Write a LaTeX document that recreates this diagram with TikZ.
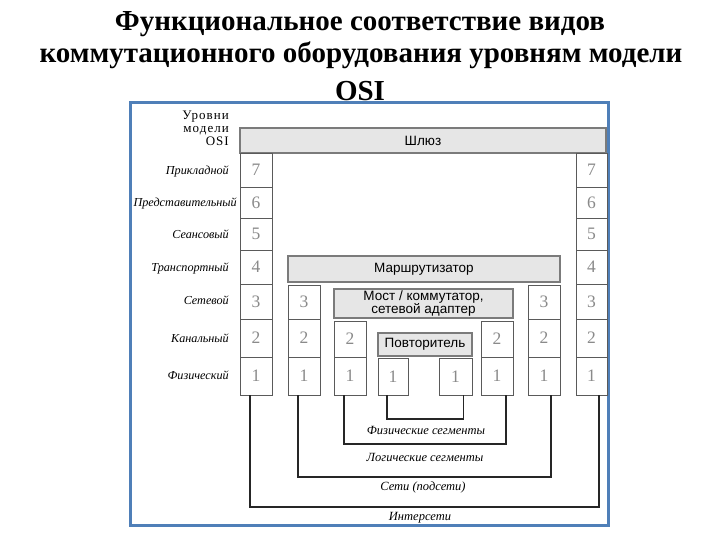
\documentclass[tikz,border=0pt]{standalone}
\usepackage{fontspec}
\setmainfont{Liberation Serif}
\setsansfont{Liberation Sans}
\definecolor{frameblue}{HTML}{4F7FB8}
\definecolor{barfill}{HTML}{E6E6E6}
\definecolor{digitgray}{HTML}{8A8A8A}
\definecolor{edgegray}{HTML}{5A5A5A}
\tikzset{
  cell/.style={draw=edgegray, line width=0.9pt, fill=white, inner sep=0pt, outer sep=0pt,
    font=\fontsize{17.5}{17.5}\selectfont, text=digitgray},
  bar/.style={draw=edgegray!80, line width=1.4pt, fill=barfill, inner sep=0pt, outer sep=0pt,
    font=\sffamily\fontsize{13.5}{15}\selectfont, align=center},
  rowlabel/.style={anchor=east, inner sep=0pt, font=\itshape\fontsize{12.2}{14}\selectfont},
  seglabel/.style={inner sep=0pt, font=\itshape\fontsize{12.5}{14}\selectfont},
  titletext/.style={anchor=base, inner sep=0pt, font=\bfseries\fontsize{29}{32}\selectfont},
  link/.style={draw=black!85, line width=1.3pt},
}
\newcommand\cellbox[6]{\node[cell, minimum width={(#4)-(#2)}, minimum height={(#5)-(#3)}] (#1) at ({((#2)+(#4))/2},{((#3)+(#5))/2}) {#6};}
\newcommand\barbox[6]{\node[bar, minimum width={(#4)-(#2)}, minimum height={(#5)-(#3)}] (#1) at ({((#2)+(#4))/2},{((#3)+(#5))/2}) {#6};}
\begin{document}
\begin{tikzpicture}[x=1pt, y=-1pt]
\useasboundingbox (0,0) rectangle (720,540);
% title
\node[titletext] (t1) at (360,31) {Функциональное соответствие видов};
\node[titletext] (t2) at (361,63) {коммутационного оборудования уровням модели};
\node[titletext] (t3) at (360,101) {OSI};
% frame
\draw[frameblue, line width=3pt, fill=white] (130,103) rectangle (608,525);
% header label
\node[anchor=north east, align=right, inner sep=0pt, font=\fontsize{13}{13}\selectfont\addfontfeatures{LetterSpace=8}] (hdr) at (229,111) {Уровни\\модели\\OSI};
% gateway bar
\barbox{gw}{240}{128}{606}{153}{Шлюз}
% left and right columns
\cellbox{L7}{240}{153}{272}{187}{7}
\cellbox{L6}{240}{187}{272}{218}{6}
\cellbox{L5}{240}{218}{272}{250}{5}
\cellbox{L4}{240}{250}{272}{284}{4}
\cellbox{L3}{240}{284}{272}{319}{3}
\cellbox{L2}{240}{319}{272}{357}{2}
\cellbox{L1}{240}{357}{272}{395}{1}
\cellbox{R7}{576}{153}{607}{187}{7}
\cellbox{R6}{576}{187}{607}{218}{6}
\cellbox{R5}{576}{218}{607}{250}{5}
\cellbox{R4}{576}{250}{607}{284}{4}
\cellbox{R3}{576}{284}{607}{319}{3}
\cellbox{R2}{576}{319}{607}{357}{2}
\cellbox{R1}{576}{357}{607}{395}{1}
% router
\barbox{router}{288}{256}{560}{282}{Маршрутизатор}
\cellbox{A3}{288}{285}{320}{319}{3}
\cellbox{A2}{288}{319}{320}{357}{2}
\cellbox{A1}{288}{357}{320}{395}{1}
\cellbox{F3}{528}{285}{560}{319}{3}
\cellbox{F2}{528}{319}{560}{357}{2}
\cellbox{F1}{528}{357}{560}{395}{1}
% bridge
\barbox{bridge}{334}{289}{513}{318}{Мост / коммутатор,\\[-2pt]сетевой адаптер}
\cellbox{B2}{334}{321}{366}{357}{2}
\cellbox{B1}{334}{357}{366}{395}{1}
\cellbox{E2}{481}{321}{513}{357}{2}
\cellbox{E1}{481}{357}{513}{395}{1}
% repeater
\barbox{rep}{378}{333}{472}{356}{Повторитель}
\cellbox{C1}{378}{358}{408}{395}{1}
\cellbox{D1}{439}{358}{472}{395}{1}
% row labels
\node[rowlabel] (n7) at (229,171) {Прикладной};
\node[rowlabel] (n6) at (237,203) {Представительный};
\node[rowlabel] (n5) at (229,234) {Сеансовый};
\node[rowlabel] (n4) at (229,268) {Транспортный};
\node[rowlabel] (n3) at (229,300) {Сетевой};
\node[rowlabel] (n2) at (229,338) {Канальный};
\node[rowlabel] (n1) at (229,375) {Физический};
% connectors
\draw[link] ([xshift=-6pt]C1.south) -- ++(0,24) -| ([xshift=8pt]D1.south);
\draw[link] ([xshift=-6pt]B1.south) -- ++(0,49) -| ([xshift=9pt]E1.south);
\draw[link] ([xshift=-6pt]A1.south) -- ++(0,82) -| ([xshift=7pt]F1.south);
\draw[link] ([xshift=-6pt]L1.south) -- ++(0,112) -| ([xshift=7.5pt]R1.south);
% segment labels
\node[seglabel] (s1) at (426,430) {Физические сегменты};
\node[seglabel] (s2) at (425,457) {Логические сегменты};
\node[seglabel] (s3) at (423,487) {Сети (подсети)};
\node[seglabel] (s4) at (420,518) {Интерсети};
\end{tikzpicture}
\end{document}
